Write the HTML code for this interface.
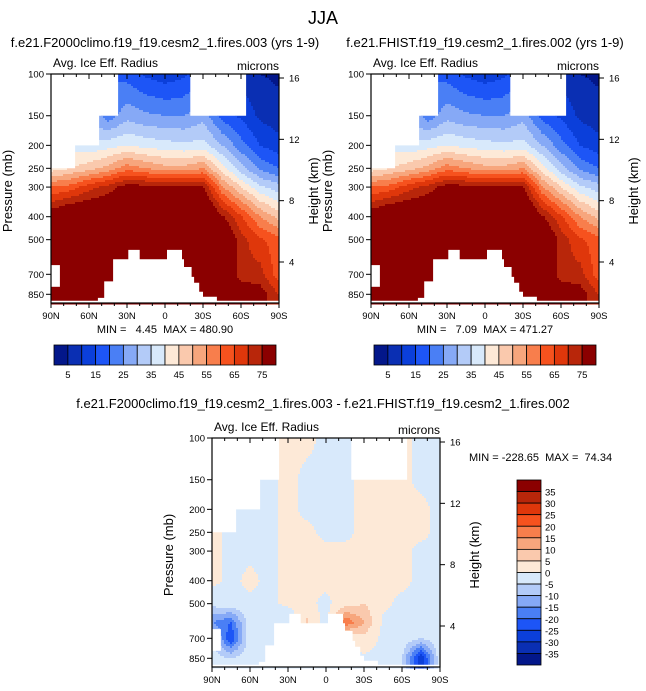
<!DOCTYPE html>
<html><head><meta charset="utf-8">
<style>
body{margin:0;background:#fff;}
svg{display:block;font-family:"Liberation Sans",Arial,sans-serif;}
</style></head>
<body>
<svg id="fig" width="646" height="691" viewBox="0 0 646 691" xmlns="http://www.w3.org/2000/svg">
<rect width="646" height="691" fill="#fff"/>
<text x="323" y="24" font-size="18" text-anchor="middle">JJA</text>
</svg>
<script>
// ---------- data ----------
const lats = [90,75,60,45,30,15,0,-15,-30,-45,-60,-75,-90];
const pres = [100,150,200,250,300,400,500,700,850,925];
const ctlGrid = [
 [30,28,24,20,18,14,12,14,20,12,8,5,4],
 [34,32,30,22,28,26,25,25,28,18,14,9,7],
 [38,38,36,38,40,38,37,36,37,30,22,15,12],
 [42,45,48,52,58,55,52,52,55,42,32,24,20],
 [60,62,68,72,78,77,76,76,76,56,45,36,32],
 [80,85,85,85,88,88,88,88,88,76,66,55,48],
 [90,90,90,90,90,90,90,90,90,85,72,66,62],
 [90,90,90,90,90,90,90,90,90,85,72,72,62],
 [90,90,90,90,90,90,90,90,90,85,80,78,70],
 [90,90,90,90,90,90,90,90,90,85,80,78,70]
];
const histGrid = [
 [30,28,24,20,18,14,12,14,20,12,8,5,4],
 [34,32,30,22,28,26,25,25,28,18,14,9,7],
 [38,38,36,38,40,38,37,36,37,30,22,15,12],
 [42,45,48,52,58,55,52,52,55,42,32,24,20],
 [60,62,68,72,78,77,76,76,76,56,45,36,32],
 [80,85,85,85,88,88,88,88,88,76,66,55,48],
 [90,90,90,90,90,90,90,90,90,85,73,66,62],
 [90,90,90,90,90,90,90,90,90,85,72,72,62],
 [90,90,90,90,90,90,90,90,90,85,80,78,70],
 [90,90,90,90,90,90,90,90,90,85,80,78,70]
];
const diffPres = [100,150,200,250,300,400,500,600,700,850,925];
const diffGrid = [
 [-1,-1,-1,-1, 1, 1,-1,-1, 1, 1, 1,-1,-1],
 [-1,-1,-1,-1, 1,-1,-1,-1, 1, 1, 1,-1,-1],
 [-1,-1,-1,-1, 1,-1,-1,-1, 1, 1, 1, 1,-1],
 [ 1,-1,-1,-1, 1, 1,-1,-1, 1, 1, 1, 1,-1],
 [ 1,-1,-1,-1, 1, 1, 1, 1, 1, 1, 1,-1,-1],
 [ 1,-1, 1,-1, 1, 1, 1, 1, 3, 1, 1,-1,-1],
 [-3,-1,-1,-1, 1, 1,-1, 2, 5, 1,-1,-1,-1],
 [-15,-20,-1,-1,-5,6,-3,20,10,-1,-1,-1,-1],
 [-5,-25,-1,-2,-1,-1,-1,-1, 3,-1,-1,-5,-1],
 [-2,-5,-1,-1,-1,-1,-1,-1,-1,-1,-5,-30,-1],
 [-2,-5,-1,-1,-1,-1,-1,-1,-1,-1,-5,-30,-1]
];
const ctlLevels = [5,10,15,20,25,30,35,40,45,50,55,60,65,70,75];
const diffLevels = [-35,-30,-25,-20,-15,-10,-5,0,5,10,15,20,25,30,35];
const palette = ["#03178a","#0a2fb3","#0b3fda","#1d55f6","#4a7ff5","#86a9f6","#b3cbf8","#d8e9fb","#fde9d7","#fac9ad","#f7a67d","#f87e4c","#f6521e","#df370b","#b8260a","#8b0000"];
const ctlBarLabels = ["5","15","25","35","45","55","65","75"];
const diffBarLabels = ["35","30","25","20","15","10","5","0","-5","-10","-15","-20","-25","-30","-35"];
const presTicks = [100,150,200,250,300,400,500,700,850];
const heightTicks = [4,8,12,16];
const latTicks = [90,60,30,0,-30,-60,-90];
const latTickLabels = ["90N","60N","30N","0","30S","60S","90S"];
const maskTop = [[90,100],[37,100],[37,150],[52,150],[52,200],[71,200],[71,250],[90,250]];
const maskTop2 = [[-20,100],[-64,100],[-64,150],[-20,150]];
const maskLeft = [[90,640],[83,640],[83,790],[90,790]];
const maskHill = [[53,925],[53,880],[48,880],[48,750],[41,750],[41,605],[29,605],[29,552],[20,552],[20,605],[-1.6,605],[-1.6,552],[-13.4,552],[-13.4,605],[-15,605],[-15,652],[-21,652],[-21,718],[-23,718],[-23,760],[-27,760],[-27,830],[-30,830],[-30,870],[-41,870],[-41,925]];
const maskBottom = [[90,905],[-90,905],[-90,925],[90,925]];

// ---------- helpers ----------
const NS = "http://www.w3.org/2000/svg";
const svg = document.getElementById('fig');
function mk(tag, attrs, parent){ const e=document.createElementNS(NS,tag); for(const k in attrs) e.setAttribute(k,attrs[k]); (parent||svg).appendChild(e); return e; }
function interp(grid, pr, lat, p){
  let fi=(90-lat)/15; fi=Math.max(0,Math.min(lats.length-1.0001,fi));
  const lp=Math.log(p); let j=0;
  while(j<pr.length-2 && Math.log(pr[j+1])<lp) j++;
  let fj=(lp-Math.log(pr[j]))/(Math.log(pr[j+1])-Math.log(pr[j])); fj=Math.max(0,Math.min(1,fj));
  const i=Math.floor(fi), fx=fi-i;
  const a=grid[j][i], b=grid[j][i+1], c=grid[j+1][i], d=grid[j+1][i+1];
  return (a*(1-fx)+b*fx)*(1-fj)+(c*(1-fx)+d*fx)*fj;
}
function colorFor(v, levels){ let k=0; while(k<levels.length && v>=levels[k]) k++; return palette[k]; }

function panel(o){
  const x0=o.x, y0=o.y, W=228, H=229;
  const xs = lat => x0 + (90-lat)/180*W;
  const ys = p => y0 + Math.log(p/100)/Math.log(9.25)*H;
  const yz = z => y0 + 4 + (16-z)*(184/12);
  const g=mk('g',{});  
  const field=mk('g',{},g);
  
  
  const step=2;
  for(let y=0;y<H;y+=step){
    const p=100*Math.exp((y+step/2)/H*Math.log(9.25));
    let runStart=0, runCol=null;
    for(let x=0;x<=W;x+=step){
      let col=null;
      if(x<W){ const lat=90-(x+step/2)/W*180; col=colorFor(interp(o.grid,o.pres,lat,p),o.levels); }
      if(col!==runCol){
        if(runCol!==null){ const r=mk('rect',{x:x0+runStart,y:y0+y,width:x-runStart+0.5,height:step+0.5,fill:runCol},field);
            }
        runStart=x; runCol=col;
      }
    }
  }
  [maskTop,maskTop2,maskLeft,maskHill,maskBottom].forEach(m=>{
    const pl=mk('polygon',{points:m.map(q=>xs(q[0]).toFixed(1)+','+ys(q[1]).toFixed(1)).join(' '),fill:'#fff'},g);
     
  });
  mk('rect',{x:x0,y:y0,width:W,height:H,fill:'none',stroke:'#000','stroke-width':1.2},g);
  for(let l=90;l>=-90;l-=10){
    const major=(l%30===0);
    const x=xs(l);
    mk('line',{x1:x,y1:y0,x2:x,y2:y0+(major?5:3),stroke:'#000'},g);
    mk('line',{x1:x,y1:y0+H,x2:x,y2:y0+H+(major?5:3),stroke:'#000'},g);
  }
  latTicks.forEach((l,i)=>{ const t=mk('text',{x:xs(l),y:y0+H+16,'font-size':9.5,'text-anchor':'middle'},g); t.textContent=latTickLabels[i];
      });
  presTicks.forEach(p=>{ const y=ys(p); mk('line',{x1:x0-5,y1:y,x2:x0,y2:y,stroke:'#000'},g);
    const t=mk('text',{x:x0-7,y:y+3.5,'font-size':9.5,'text-anchor':'end'},g); t.textContent=p;
      });
  heightTicks.forEach(z=>{ const y=yz(z); mk('line',{x1:x0+W,y1:y,x2:x0+W+5,y2:y,stroke:'#000'},g);
    const t=mk('text',{x:x0+W+10,y:y+3.5,'font-size':9.5},g); t.textContent=z;
      });
  const yt=mk('text',{x:0,y:0,'font-size':13,'text-anchor':'middle',transform:`translate(${x0-39},${y0+117}) rotate(-90)`},g);
  yt.textContent='Pressure (mb)';  
  const ht=mk('text',{x:0,y:0,'font-size':13,'text-anchor':'middle',transform:`translate(${x0+W+39},${y0+117}) rotate(-90)`},g);
  ht.textContent='Height (km)';  
  const st=mk('text',{x:x0+2,y:y0-7,'font-size':12},g); st.textContent='Avg. Ice Eff. Radius';
   
  const un=mk('text',{x:x0+W,y:y0-4,'font-size':12,'text-anchor':'end'},g); un.textContent='microns';
   
  const tt=mk('text',{x:o.tx,y:o.ty,'font-size':13,'text-anchor':'middle'},g); tt.textContent=o.title;
   
  const mm=mk('text',{x:o.mx,y:o.my,'font-size':11,'text-anchor':o.manchor},g); mm.textContent=o.minmax;
  mm.style.whiteSpace='pre';
   
}

function hbar(x0,y0){
  const g=mk('g',{});  
  const w=222/palette.length;
  palette.forEach((c,i)=>{ const r=mk('rect',{x:x0+i*w,y:y0,width:w,height:20,fill:c,stroke:'#000','stroke-width':0.8},g);
      });
  ctlBarLabels.forEach((s,i)=>{ const t=mk('text',{x:x0+(2*i+1)*w,y:y0+33,'font-size':9.5,'text-anchor':'middle'},g); t.textContent=s;
      });
}
function vbar(x0,y0){
  const g=mk('g',{});  
  const h=185/palette.length;
  palette.slice().reverse().forEach((c,i)=>{ const r=mk('rect',{x:x0,y:y0+i*h,width:24,height:h,fill:c,stroke:'#000','stroke-width':0.8},g);
      });
  diffBarLabels.forEach((s,i)=>{ const t=mk('text',{x:x0+28,y:y0+(i+1)*h+4,'font-size':9.5},g); t.textContent=s;
      });
}

panel({name:'control-panel',x:51,y:74,grid:ctlGrid,pres:pres,levels:ctlLevels,
  title:'f.e21.F2000climo.f19_f19.cesm2_1.fires.003 (yrs 1-9)',tx:165,ty:47,
  minmax:'MIN =   4.45  MAX = 480.90',mx:165,my:333,manchor:'middle'});
panel({name:'hist-panel',x:371,y:74,grid:histGrid,pres:pres,levels:ctlLevels,
  title:'f.e21.FHIST.f19_f19.cesm2_1.fires.002 (yrs 1-9)',tx:485,ty:47,
  minmax:'MIN =   7.09  MAX = 471.27',mx:485,my:333,manchor:'middle'});
panel({name:'difference-panel',x:212,y:438,grid:diffGrid,pres:diffPres,levels:diffLevels,
  title:'f.e21.F2000climo.f19_f19.cesm2_1.fires.003 - f.e21.FHIST.f19_f19.cesm2_1.fires.002',tx:323,ty:408,
  minmax:'MIN = -228.65  MAX =  74.34',mx:469,my:461,manchor:'start'});
hbar(54,345);
hbar(374,345);
vbar(517,480);
</script>
</body></html>
